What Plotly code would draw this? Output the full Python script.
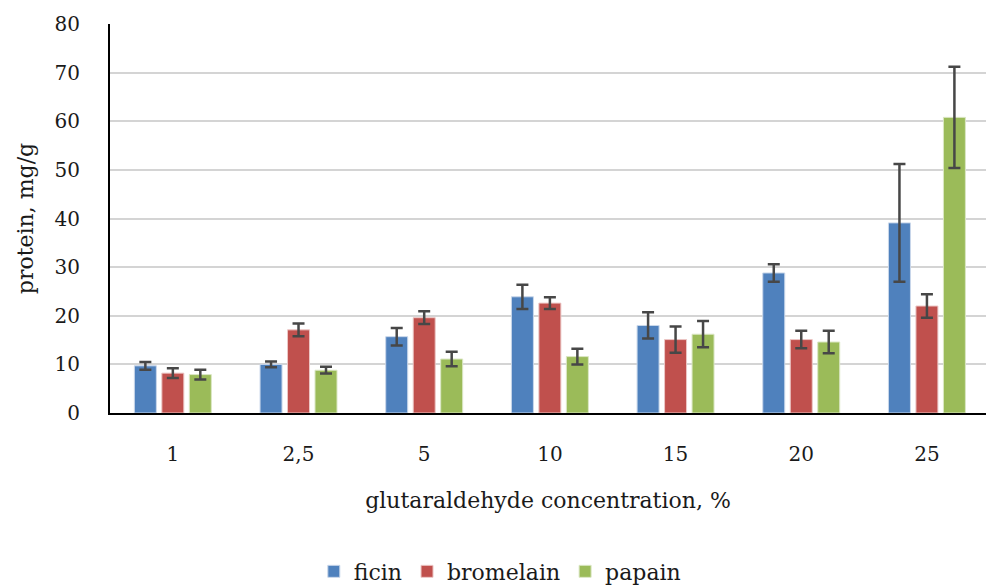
import plotly.graph_objects as go

# Glutaraldehyde concentrations (%), shown with comma decimal separator
categories = ["1", "2,5", "5", "10", "15", "20", "25"]

# Bound protein, mg/g, with standard deviations
ficin = [9.7, 10.0, 15.7, 23.9, 18.0, 28.8, 39.1]
ficin_err = [0.8, 0.6, 1.8, 2.5, 2.7, 1.8, 12.1]

bromelain = [8.2, 17.1, 19.6, 22.6, 15.1, 15.1, 22.0]
bromelain_err = [1.0, 1.3, 1.3, 1.2, 2.7, 1.8, 2.4]

papain = [7.9, 8.8, 11.1, 11.6, 16.2, 14.6, 60.8]
papain_err = [1.0, 0.7, 1.5, 1.6, 2.7, 2.3, 10.4]

y_ticks = [0, 10, 20, 30, 40, 50, 60, 70, 80]

series = [
    ("ficin", ficin, ficin_err, "#4F81BD", "#c9d7ea"),
    ("bromelain", bromelain, bromelain_err, "#C0504D", "#ecc7c6"),
    ("papain", papain, papain_err, "#9BBB59", "#dbe7c5"),
]

FONT = "DejaVu Serif"
TEXT = "#1a1a1a"
xpos = list(range(len(categories)))

fig = go.Figure()
for name, vals, errs, color, edge in series:
    fig.add_trace(go.Bar(
        name=name,
        x=xpos,
        y=vals,
        marker=dict(color=color, line=dict(color=edge, width=1)),
        error_y=dict(type="data", array=errs, visible=True,
                     color="#474747", thickness=2.5, width=6),
    ))

fig.update_layout(
    width=986,
    height=588,
    margin=dict(l=110, r=0, t=24, b=175, autoexpand=False),
    paper_bgcolor="white",
    plot_bgcolor="white",
    barmode="group",
    bargap=0.344,
    bargroupgap=0.2,
    font=dict(family=FONT, size=20, color=TEXT),
    showlegend=True,
    legend=dict(
        orientation="h",
        x=0.445, xanchor="center",
        yref="container",
        y=0.028, yanchor="middle",
        font=dict(family=FONT, size=22, color=TEXT),
        itemwidth=30,
        traceorder="normal",
    ),
    xaxis=dict(
        range=[-0.5, 6.47],
        tickmode="array",
        tickvals=xpos,
        ticktext=categories,
        showgrid=False,
        showline=True,
        linecolor="black",
        linewidth=2,
        ticks="",
        ticklabelstandoff=22,
        tickfont=dict(family=FONT, size=20, color=TEXT),
        title=dict(text="glutaraldehyde concentration, %",
                   font=dict(family=FONT, size=22, color=TEXT),
                   standoff=28),
        zeroline=False,
    ),
    yaxis=dict(
        range=[0, 80],
        tickmode="array",
        tickvals=y_ticks,
        ticktext=[str(v) for v in y_ticks],
        showgrid=True,
        gridcolor="#d4d4d4",
        gridwidth=1.5,
        showline=True,
        linecolor="black",
        linewidth=2,
        ticks="",
        ticklabelstandoff=24,
        tickfont=dict(family=FONT, size=20, color=TEXT),
        title=dict(text="protein, mg/g",
                   font=dict(family=FONT, size=22, color=TEXT),
                   standoff=15),
        zeroline=False,
    ),
)

fig.write_html("out.html")
